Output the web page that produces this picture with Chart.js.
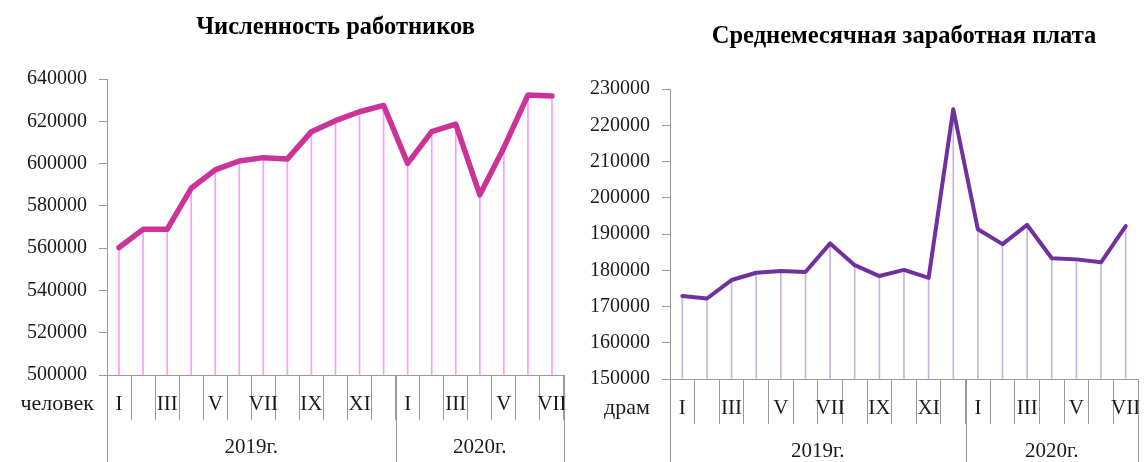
<!DOCTYPE html>
<html><head><meta charset="utf-8">
<script src="https://cdn.jsdelivr.net/npm/chart.js@4/dist/chart.umd.min.js"></script>
<style>
html,body{margin:0;padding:0;background:#fff;width:1144px;height:462px;overflow:hidden}
canvas{position:absolute;top:0}
#c1{left:0}
#c2{left:572px}
</style></head><body>
<canvas id="c1" width="654" height="462"></canvas>
<canvas id="c2" width="572" height="462"></canvas>
<script>
// ---- data ----
const monthLabels = ['I','II','III','IV','V','VI','VII','VIII','IX','X','XI','XII','I','II','III','IV','V','VI','VII'];
const yearLabels = ['2019г.','2020г.'];
const yearSpans = [12, 7];
const employees = [560300, 568900, 568900, 588300, 597000, 601200, 602800, 602200, 615100, 620300, 624500, 627500,
                   600100, 615100, 618600, 585200, 607500, 632400, 632000];
const wages = [172900, 172200, 177300, 179300, 179800, 179500, 187400, 181400, 178400, 180100, 177900, 224400,
               191300, 187200, 192500, 183300, 183000, 182200, 192200];
const empTitle = 'Численность работников';
const wageTitle = 'Среднемесячная заработная плата';
const empUnit = 'человек';
const wageUnit = 'драм';
const empAxis = {min: 500000, max: 640000, step: 20000};
const wageAxis = {min: 150000, max: 230000, step: 10000};

const SERIF = '"Liberation Serif", "Times New Roman", serif';
const AXIS = '#9a9a9a';

const multiLevel = {
  id: 'multiLevel',
  afterDraw(chart, args, o) {
    const {ctx, chartArea} = chart;
    const x = chart.scales.x;
    ctx.save();
    ctx.strokeStyle = AXIS; ctx.lineWidth = 1;
    const bounds = [-0.5];
    let s = 0;
    yearSpans.forEach(n => { s += n; bounds.push(s - 0.5); });
    bounds.forEach(b => {
      const px = Math.round(x.getPixelForValue(b)) + 0.5;
      ctx.beginPath(); ctx.moveTo(px, chartArea.bottom); ctx.lineTo(px, chart.height); ctx.stroke();
    });
    ctx.fillStyle = '#1a1a1a';
    ctx.font = '21px ' + SERIF;
    ctx.textAlign = 'center'; ctx.textBaseline = 'middle';
    for (let i = 0; i < yearLabels.length; i++) {
      const c = (x.getPixelForValue(bounds[i]) + x.getPixelForValue(bounds[i + 1])) / 2;
      ctx.fillText(yearLabels[i], c, chartArea.bottom + o.yearOffset);
    }
    ctx.textAlign = 'right';
    ctx.font = '22px ' + SERIF;
    ctx.fillText(o.unit, chartArea.left - o.unitGap, chartArea.bottom + o.unitOffset);
    ctx.restore();
  }
};

function makeChart(id, cfg) {
  return new Chart(document.getElementById(id), {
    type: 'line',
    data: {
      labels: monthLabels,
      datasets: [
        {type: 'line', data: cfg.values, borderColor: cfg.color, borderWidth: cfg.lineWidth,
         pointRadius: 0, tension: 0, borderJoinStyle: 'round', borderCapStyle: 'round', order: 0},
        {type: 'bar', data: cfg.values, base: cfg.axis.min, backgroundColor: cfg.dropColor,
         barThickness: 1, order: 1}
      ]
    },
    options: {
      responsive: false, animation: false, devicePixelRatio: 1,
      layout: {padding: {left: 0, right: cfg.padRight, top: 0, bottom: 0}},
      plugins: {
        legend: {display: false}, tooltip: {enabled: false},
        title: {display: true, text: cfg.title, fullSize: false, color: '#000',
                font: {family: SERIF, size: 24.5, weight: 'bold'}, padding: cfg.titlePad},
        multiLevel: {unit: cfg.unit, unitGap: cfg.unitGap, unitOffset: 29, yearOffset: 72}
      },
      scales: {
        x: {
          type: 'category', offset: true,
          grid: {offset: true, drawOnChartArea: false, tickLength: 45, color: AXIS},
          border: {display: true, color: AXIS},
          ticks: {autoSkip: false, maxRotation: 0, padding: -28, color: '#1a1a1a',
                  font: {family: SERIF, size: 21},
                  callback: (v, i) => i % 2 === 0 ? monthLabels[i] : ''},
          afterFit: s => { s.height = cfg.xHeight; }
        },
        y: {
          min: cfg.axis.min, max: cfg.axis.max,
          grid: {drawOnChartArea: false, tickLength: 8, color: AXIS},
          border: {display: true, color: AXIS},
          ticks: {stepSize: cfg.axis.step, padding: 12, color: '#1a1a1a',
                  font: {family: SERIF, size: 20}, callback: v => String(v)},
          afterFit: s => { s.width = cfg.yWidth; }
        }
      }
    },
    plugins: [multiLevel]
  });
}

makeChart('c1', {values: employees, color: '#CC3399', lineWidth: 5.5, dropColor: '#FF99FF',
  axis: empAxis, title: empTitle, titlePad: {top: 13, bottom: 36.6},
  unit: empUnit, unitGap: 13, padRight: 90, xHeight: 87, yWidth: 107});
makeChart('c2', {values: wages, color: '#7030A0', lineWidth: 4, dropColor: '#C9B3E0',
  axis: wageAxis, title: wageTitle, titlePad: {top: 22.3, bottom: 37.3},
  unit: wageUnit, unitGap: 20, padRight: 6, xHeight: 83, yWidth: 98});
</script>
</body></html>
